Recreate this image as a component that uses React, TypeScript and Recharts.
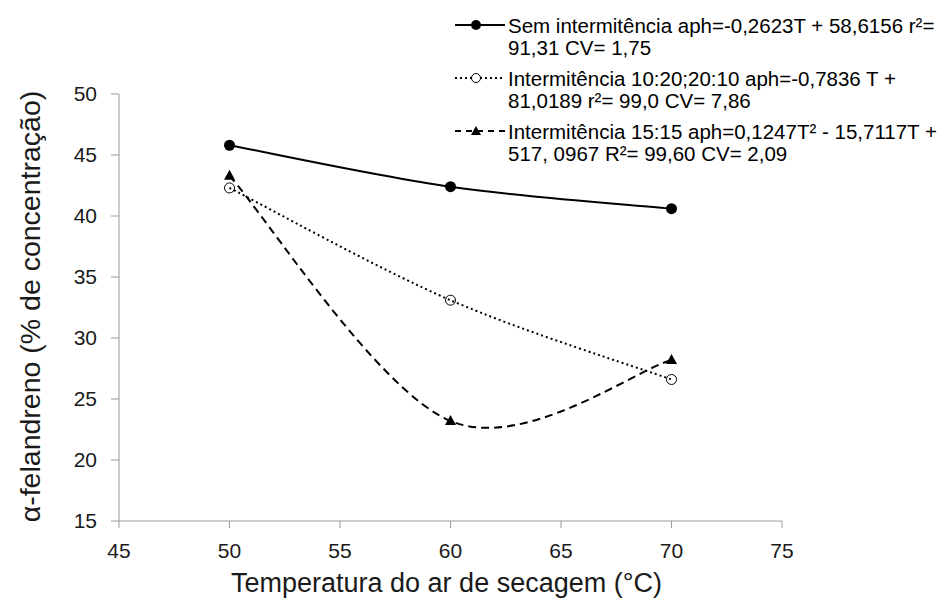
import React from 'react';
import { LineChart, Line, XAxis, YAxis, Label } from 'recharts';

const temps = [50, 60, 70];
const semIntermitencia = [45.8, 42.4, 40.6];
const intermitencia1020 = [42.3, 33.1, 26.6];
const intermitencia1515 = [43.3, 23.2, 28.2];
const xTicks = [45, 50, 55, 60, 65, 70, 75];
const yTicks = [15, 20, 25, 30, 35, 40, 45, 50];

const legendLines = [
  ['Sem intermitência aph=-0,2623T + 58,6156 r²=', '91,31 CV= 1,75'],
  ['Intermitência 10:20;20:10 aph=-0,7836 T +', '81,0189 r²= 99,0 CV= 7,86'],
  ['Intermitência 15:15 aph=0,1247T²  - 15,7117T +', '517, 0967 R²= 99,60 CV= 2,09'],
];

const data = temps.map((t, i) => ({
  t,
  a: semIntermitencia[i],
  b: intermitencia1020[i],
  c: intermitencia1515[i],
}));

// Excel-like smooth curve (Catmull-Rom via cubic Bezier)
function smoothCurve(context: any) {
  let pts: number[][] = [];
  return {
    areaStart() {},
    areaEnd() {},
    lineStart() {
      pts = [];
    },
    point(x: number, y: number) {
      pts.push([+x, +y]);
    },
    lineEnd() {
      const n = pts.length;
      if (!n) return;
      context.moveTo(pts[0][0], pts[0][1]);
      for (let i = 0; i < n - 1; i++) {
        const p0 = pts[Math.max(i - 1, 0)];
        const p1 = pts[i];
        const p2 = pts[i + 1];
        const p3 = pts[Math.min(i + 2, n - 1)];
        context.bezierCurveTo(
          p1[0] + (p2[0] - p0[0]) / 6,
          p1[1] + (p2[1] - p0[1]) / 6,
          p2[0] - (p3[0] - p1[0]) / 6,
          p2[1] - (p3[1] - p1[1]) / 6,
          p2[0],
          p2[1]
        );
      }
    },
  };
}

const FilledDot = (p: any) => <circle key={p.key} cx={p.cx} cy={p.cy} r={5.5} fill="#000" />;
const OpenDot = (p: any) => (
  <circle key={p.key} cx={p.cx} cy={p.cy} r={5} fill="none" stroke="#000" strokeWidth={1} />
);
const Tri = (p: any) => (
  <polygon
    key={p.key}
    points={`${p.cx},${p.cy - 6} ${p.cx - 5.5},${p.cy + 4} ${p.cx + 5.5},${p.cy + 4}`}
    fill="#000"
  />
);

const fontMain = '"Liberation Sans", Arial, sans-serif';

const LegendOverlay = () => {
  const rows = [25, 78, 131];
  return (
    <svg
      width={948}
      height={175}
      style={{ position: 'absolute', left: 0, top: 0, display: 'block', pointerEvents: 'none' }}
    >
      {rows.map((y, i) => (
        <g key={i}>
          <line
            x1={455}
            x2={505}
            y1={y}
            y2={y}
            stroke="#000"
            strokeWidth={i === 0 ? 2 : 1.8}
            strokeDasharray={i === 1 ? '2 3' : i === 2 ? '6 5' : undefined}
          />
          {i === 0 && <circle cx={476} cy={y} r={5} fill="#000" />}
          {i === 1 && <circle cx={476} cy={y} r={4.5} fill="#fff" stroke="#000" strokeWidth={1} />}
          {i === 2 && <polygon points={`476,${y - 5} 471,${y + 4} 481,${y + 4}`} fill="#000" />}
          <text x={508} y={y + 7.5} fontSize={20.5} fontFamily={fontMain} fill="#000">
            {legendLines[i][0]}
          </text>
          <text x={508} y={y + 29.5} fontSize={20.5} fontFamily={fontMain} fill="#000">
            {legendLines[i][1]}
          </text>
        </g>
      ))}
    </svg>
  );
};

export default function App() {
  return (
    <div style={{ position: 'absolute', left: 0, top: 0, width: 948, height: 599, background: '#fff' }}>
      <LineChart
        width={948}
        height={599}
        data={data}
        margin={{ top: 94, right: 166, bottom: 0, left: 0 }}
      >
        <XAxis
          type="number"
          dataKey="t"
          domain={[45, 75]}
          ticks={xTicks}
          height={78}
          stroke="#9a9a9a"
          tickSize={7}
          tickMargin={15}
          tick={{ fill: '#1a1a1a', fontSize: 21, fontFamily: fontMain }}
        >
          <Label
            value="Temperatura do ar de secagem (°C)"
            position="insideBottom"
            offset={7}
            dx={-4}
            style={{ fontSize: 27, fontFamily: fontMain, fill: '#1a1a1a' }}
          />
        </XAxis>
        <YAxis
          type="number"
          domain={[15, 50]}
          ticks={yTicks}
          width={119}
          stroke="#9a9a9a"
          tickSize={8}
          tickMargin={14}
          tick={{ fill: '#1a1a1a', fontSize: 21, fontFamily: fontMain }}
        >
          <Label
            value="α-felandreno (% de concentração)"
            angle={-90}
            position="center"
            dx={-30}
            dy={-1}
            style={{ fontSize: 28.5, fontFamily: fontMain, fill: '#1a1a1a', textAnchor: 'middle' }}
          />
        </YAxis>
        <Line
          dataKey="a"
          type={smoothCurve as any}
          stroke="#000"
          strokeWidth={2}
          dot={FilledDot}
          activeDot={false}
          isAnimationActive={false}
        />
        <Line
          dataKey="b"
          type={smoothCurve as any}
          stroke="#000"
          strokeWidth={2}
          strokeDasharray="2 3"
          dot={OpenDot}
          activeDot={false}
          isAnimationActive={false}
        />
        <Line
          dataKey="c"
          type={smoothCurve as any}
          stroke="#000"
          strokeWidth={2}
          strokeDasharray="8 5"
          dot={Tri}
          activeDot={false}
          isAnimationActive={false}
        />
      </LineChart>
      <LegendOverlay />
    </div>
  );
}
